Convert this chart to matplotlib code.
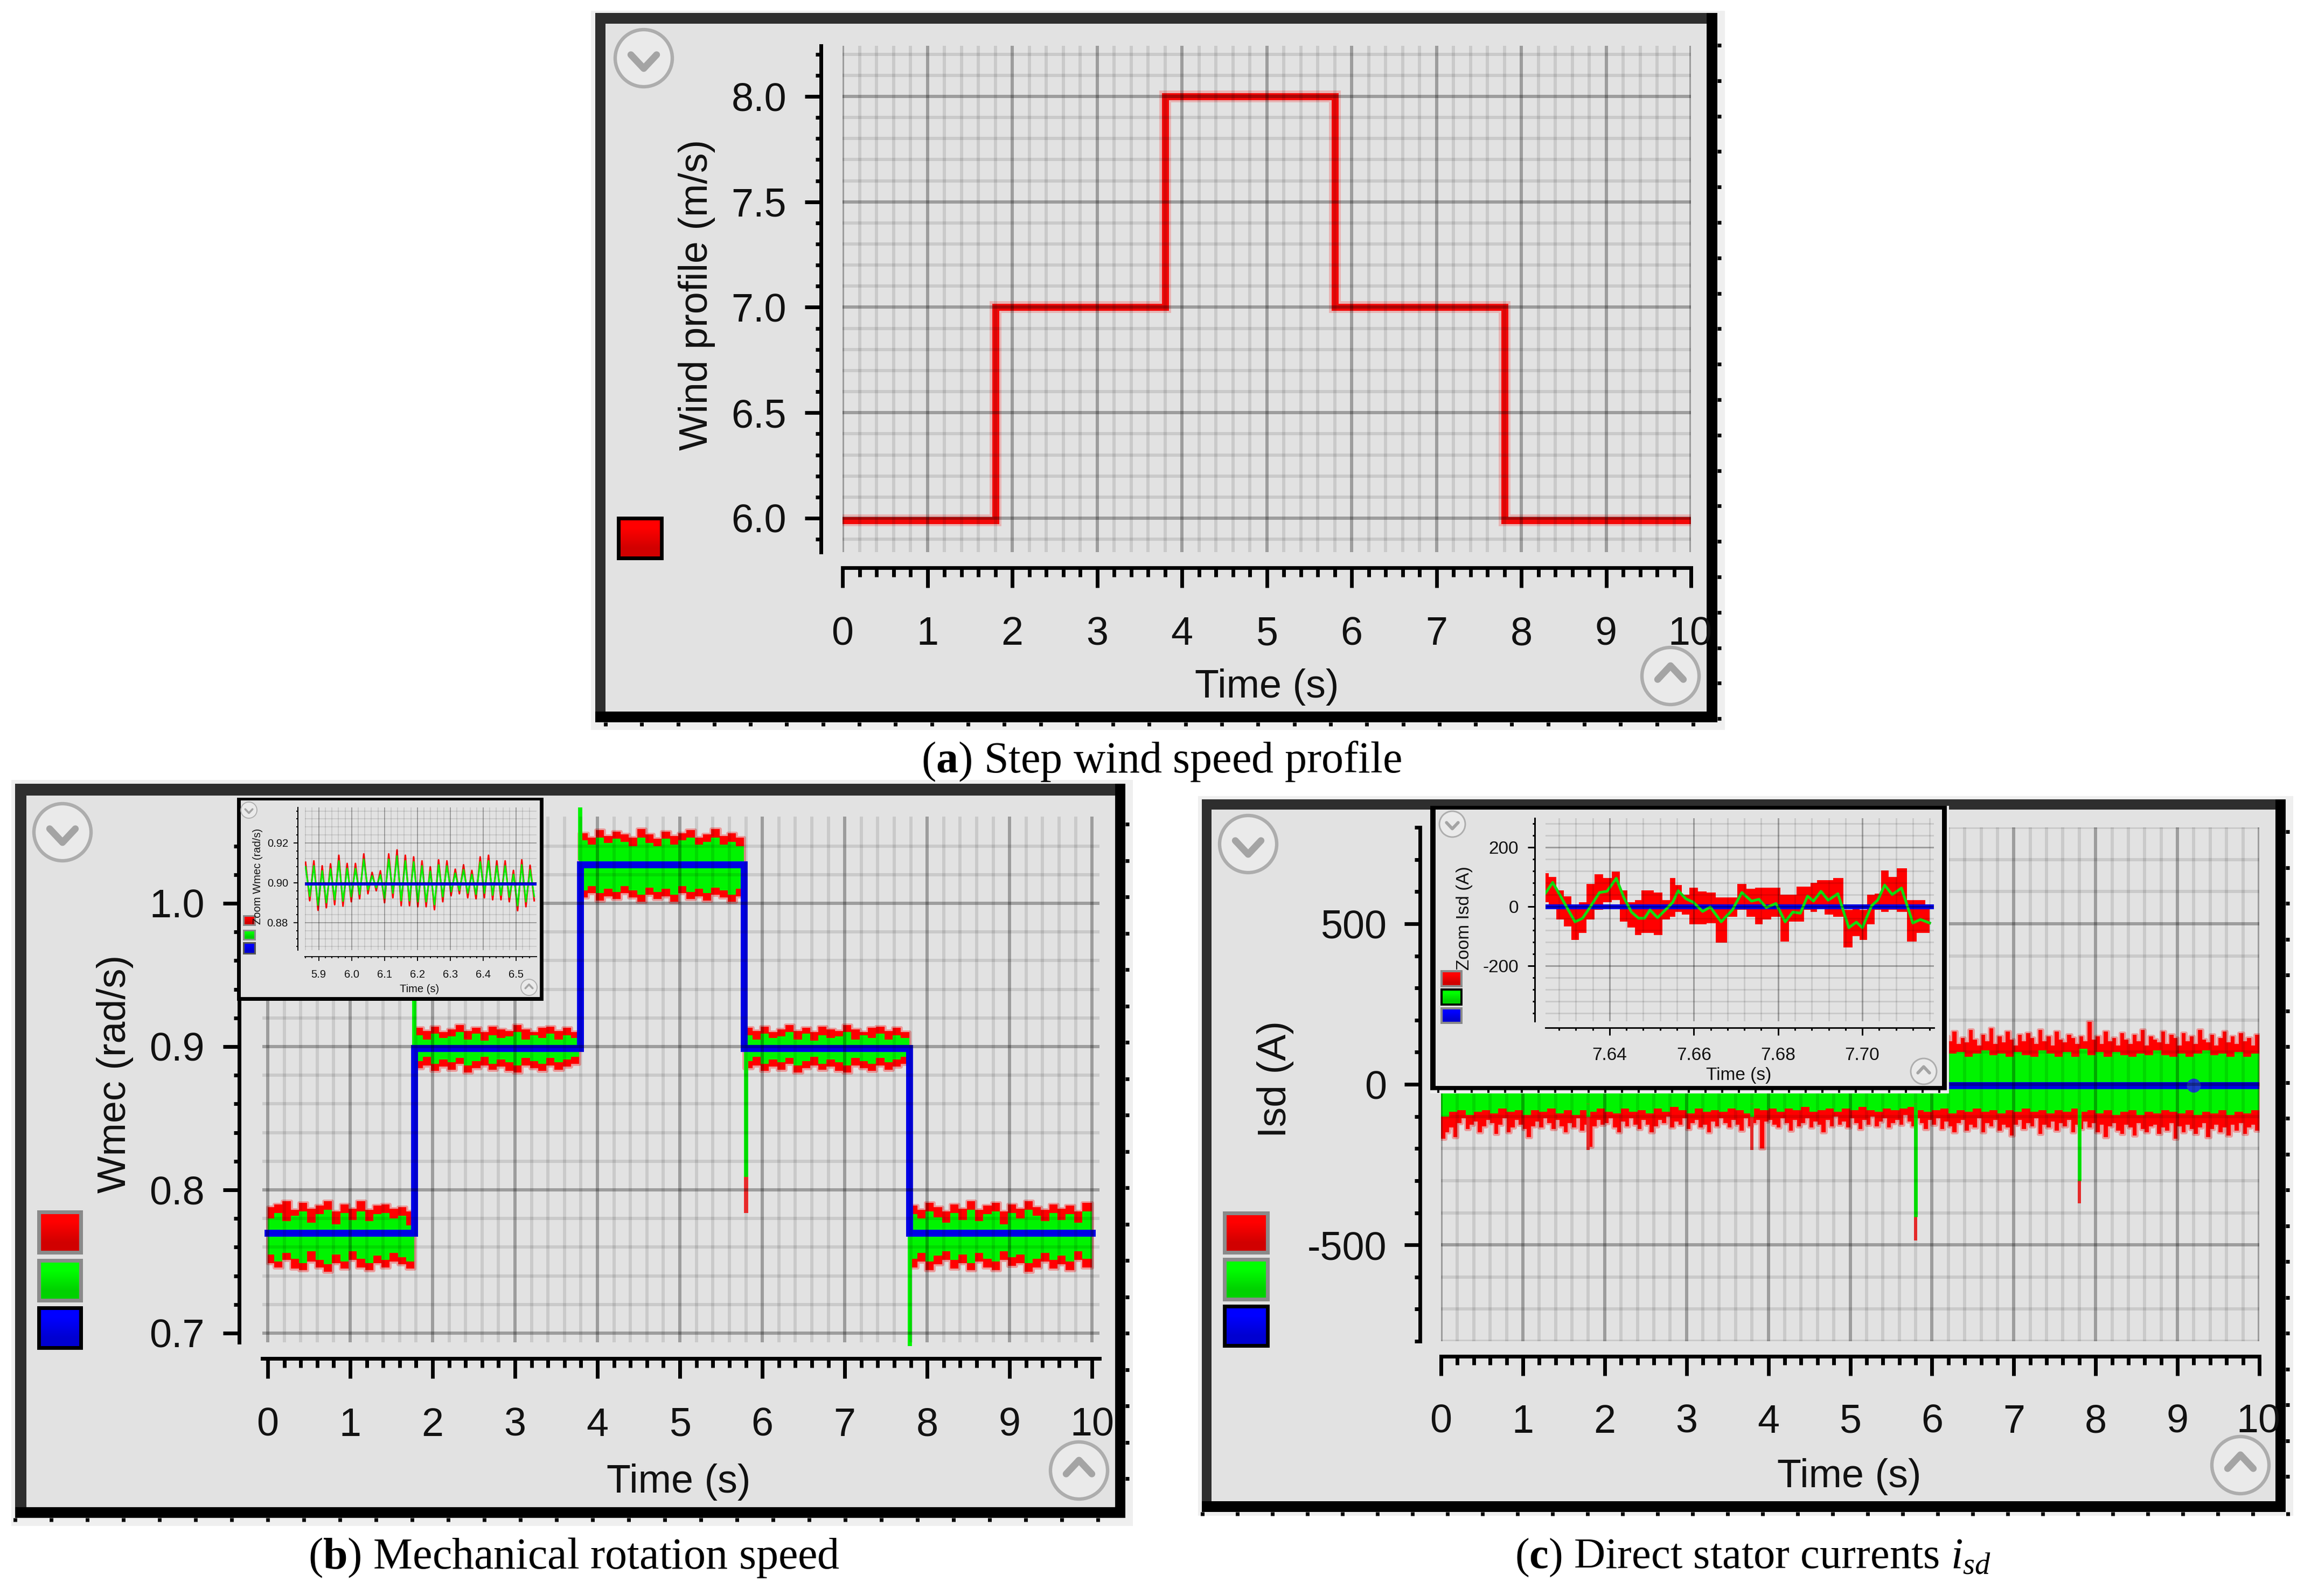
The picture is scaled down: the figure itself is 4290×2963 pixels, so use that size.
import numpy as np
from matplotlib import pyplot as plt
from matplotlib.patches import Circle, Rectangle
from matplotlib.transforms import ScaledTranslation

W = 4290
H = 2963
DPI = 100
PT = 72.0 / DPI  # one image pixel in points

plt.rcParams['font.family'] = ['Liberation Sans', 'DejaVu Sans']
plt.rcParams['mathtext.fontset'] = 'custom'
plt.rcParams['mathtext.bf'] = 'Liberation Serif:bold'
plt.rcParams['mathtext.it'] = 'Liberation Serif:italic'
plt.rcParams['mathtext.rm'] = 'Liberation Serif'

# (a) wind profile
wind_t = [0, 1.8, 1.8, 3.8, 3.8, 5.8, 5.8, 7.8, 7.8, 10]
wind_v = [5.99, 5.99, 7.0, 7.0, 8.0, 8.0, 7.0, 7.0, 5.99, 5.99]

# (b) mechanical speed, one value every 0.1 s
wmec_ref_t = [0, 1.78, 1.78, 3.79, 3.79, 5.78, 5.78, 7.78, 7.78, 10]
wmec_ref = [0.77, 0.77, 0.899, 0.899, 1.027, 1.027, 0.899, 0.899, 0.77, 0.77]

low_red_hi = [.788, .790, .792, .786, .791, .787, .789, .792, .785, .790, .787, .792, .786, .789, .790, .787, .788, .785]
low_grn_hi = [.780, .784, .778, .782, .785, .777, .783, .786, .776, .784, .779, .785, .778, .783, .784, .780, .782, .775]
low_grn_lo = [.755, .750, .756, .752, .749, .757, .751, .748, .755, .750, .757, .752, .749, .754, .751, .756, .753, .750]
low_red_lo = [.749, .746, .751, .745, .744, .750, .746, .743, .749, .745, .751, .746, .744, .749, .746, .750, .748, .745]

mid_red_hi = [.913, .911, .914, .910, .912, .915, .911, .913, .910, .914, .912, .911, .915, .912, .910, .913, .914, .911, .913, .910]
mid_grn_hi = [.908, .905, .909, .906, .907, .910, .905, .909, .904, .908, .906, .907, .910, .905, .908, .906, .909, .905, .908, .906]
mid_grn_lo = [.890, .893, .888, .891, .889, .892, .887, .890, .893, .888, .891, .889, .887, .892, .890, .888, .892, .889, .891, .893]
mid_red_lo = [.885, .887, .883, .886, .884, .888, .882, .885, .887, .884, .886, .883, .882, .887, .885, .883, .887, .884, .886, .888]

top_red_hi = [1.049, 1.046, 1.051, 1.047, 1.050, 1.048, 1.046, 1.052, 1.048, 1.045, 1.050, 1.047, 1.049, 1.051, 1.046, 1.048, 1.052, 1.047, 1.049, 1.046]
top_grn_hi = [1.044, 1.041, 1.046, 1.042, 1.045, 1.043, 1.040, 1.046, 1.042, 1.040, 1.045, 1.041, 1.044, 1.046, 1.041, 1.043, 1.046, 1.041, 1.043, 1.040]
top_grn_lo = [1.009, 1.012, 1.007, 1.010, 1.008, 1.012, 1.009, 1.006, 1.011, 1.008, 1.010, 1.006, 1.012, 1.008, 1.010, 1.007, 1.011, 1.009, 1.006, 1.010]
top_red_lo = [1.004, 1.007, 1.002, 1.005, 1.003, 1.007, 1.004, 1.001, 1.006, 1.003, 1.005, 1.001, 1.007, 1.003, 1.005, 1.002, 1.006, 1.004, 1.001, 1.005]

end_red_hi = [.789, .786, .791, .788, .785, .790, .787, .792, .786, .789, .791, .785, .790, .787, .792, .788, .786, .790, .787, .789, .785, .791, .788]
end_grn_hi = [.783, .780, .785, .781, .777, .784, .779, .786, .778, .783, .785, .776, .784, .780, .786, .782, .778, .784, .779, .783, .777, .785, .781]
end_grn_lo = [.752, .756, .750, .754, .757, .751, .755, .749, .756, .752, .750, .757, .753, .755, .749, .752, .756, .751, .754, .750, .757, .752, .755]
end_red_lo = [.746, .750, .744, .748, .751, .745, .749, .744, .750, .746, .744, .751, .747, .749, .743, .746, .750, .745, .748, .744, .751, .746, .749]

wmec_red_hi = low_red_hi + mid_red_hi + top_red_hi + mid_red_hi + end_red_hi
wmec_grn_hi = low_grn_hi + mid_grn_hi + top_grn_hi + mid_grn_hi + end_grn_hi
wmec_grn_lo = low_grn_lo + mid_grn_lo + top_grn_lo + mid_grn_lo + end_grn_lo
wmec_red_lo = low_red_lo + mid_red_lo + top_red_lo + mid_red_lo + end_red_lo

wmec_spike_t = [1.78, 3.79, 5.8, 7.79]
wmec_spike_from = [0.9, 1.03, 0.9, 0.77]
wmec_spike_to = [0.975, 1.067, 0.809, 0.691]
wmec_red_spike_to = [0.975, 1.067, 0.784, 0.691]

# (b) inset, zigzag high/low pairs
zoom_w_red = [.9103, .8910, .9110, .8862, .9085, .8875, .9095, .8890, .9138, .8883, .9097, .8905, .9097, .8920,
              .9145, .8945, .9052, .8960, .9060, .8900, .9145, .8925, .9165, .8885, .9138, .8885, .9130, .8880,
              .9110, .8880, .9080, .8865, .9115, .8905, .9110, .8935, .9068, .8945, .9090, .8925, .9062, .8920,
              .9130, .8925, .9138, .8915, .9110, .8915, .9110, .8905, .9062, .8860, .9115, .8880, .9088, .8910]
zoom_w_grn = [.9080, .8932, .9085, .8888, .9060, .8900, .9070, .8915, .9110, .8908, .9072, .8930, .9072, .8942,
              .9118, .8965, .9035, .8975, .9040, .8922, .9118, .8948, .9135, .8910, .9110, .8910, .9105, .8905,
              .9085, .8905, .9058, .8890, .9090, .8930, .9085, .8955, .9048, .8962, .9066, .8948, .9042, .8942,
              .9105, .8948, .9110, .8938, .9085, .8938, .9085, .8928, .9042, .8885, .9090, .8905, .9065, .8932]
zoom_w_ref_t = [5.86, 6.56]
zoom_w_ref = [0.8995, 0.8995]

# (c) stator current, red edges every 0.05 s below, green edges every 0.1 s
isd_red_lo = [-170, -150, -135, -165, -120, -105, -140, -125, -115, -150, -130, -110, -120, -155, -125, -105, -150, -135, -110, -125,
              -140, -165, -130, -115, -135, -105, -120, -140, -110, -130, -150, -120, -135, -105, -145, -125, -195, -130, -110, -125,
              -120, -105, -135, -150, -115, -130, -105, -125, -140, -110, -125, -150, -130, -110, -120, -100, -135, -115, -125, -105,
              -140, -120, -110, -135, -125, -150, -115, -130, -105, -120, -135, -110, -125, -145, -105, -130, -120, -110, -200, -115,
              -110, -125, -135, -105, -120, -145, -110, -130, -120, -105, -135, -115, -125, -150, -110, -130, -100, -125, -115, -135,
              -105, -120, -140, -110, -125, -100, -130, -115, -105, -135, -120, -110, -125, -95, -115, -130, -105, -120, -140, -110,
              -125, -105, -140, -115, -130, -150, -120, -110, -145, -125, -135, -105, -150, -120, -130, -110, -145, -125, -135, -160,
              -125, -110, -140, -120, -130, -105, -155, -125, -135, -115, -145, -120, -130, -110, -150, -125, -140, -115, -135, -120,
              -150, -125, -165, -130, -120, -145, -155, -125, -135, -160, -120, -140, -150, -130, -125, -155, -135, -145, -120, -170,
              -130, -150, -125, -140, -155, -135, -120, -165, -140, -125, -150, -135, -160, -125, -145, -120, -155, -135, -125, -145, -130]
isd_grn_lo = [-100, -85, -80, -95, -85, -80, -90, -75, -85, -80, -95, -80, -85, -75, -90, -80, -95, -80, -85, -75,
              -85, -90, -75, -85, -80, -90, -75, -85, -70, -80, -90, -75, -85, -80, -85, -75, -80, -90, -75, -80,
              -75, -85, -75, -80, -70, -85, -80, -75, -85, -75, -80, -70, -80, -85, -75, -80, -75, -70, -80, -85,
              -80, -75, -90, -80, -85, -75, -85, -80, -90, -80, -85, -75, -85, -80, -90, -80, -85, -75, -85, -80,
              -90, -80, -95, -85, -80, -95, -85, -90, -80, -85, -90, -80, -95, -85, -90, -80, -95, -85, -90, -80, -85]
isd_grn_hi = [85, 95, 75, 85, 95, 80, 90, 85, 70, 95, 85, 75, 90, 95, 80, 85, 95, 75, 80, 90,
              85, 80, 95, 85, 75, 90, 85, 95, 80, 85, 95, 85, 75, 90, 85, 95, 80, 85, 90, 75,
              85, 95, 80, 90, 85, 75, 95, 85, 90, 80, 85, 95, 75, 85, 90, 85, 80, 95, 85, 90,
              85, 90, 95, 100, 85, 95, 105, 90, 95, 85, 100, 90, 85, 105, 95, 85, 100, 85, 110, 90,
              100, 85, 100, 90, 85, 95, 90, 105, 90, 85, 95, 85, 95, 105, 90, 95, 85, 100, 85, 95, 90]
# upper red, every 0.1 s up to 6 s (behind the inset), then every 0.05 s
isd_red_hi_early = [120, 135, 110, 125, 140, 115, 130, 120, 105, 135, 125, 110, 130, 140, 115, 125, 135, 110, 120, 130,
                    125, 115, 135, 120, 110, 130, 125, 140, 115, 120, 135, 125, 110, 130, 120, 140, 115, 125, 130, 110,
                    120, 135, 115, 130, 125, 110, 140, 120, 130, 115, 125, 135, 110, 120, 130, 125, 115, 140, 120, 130]
isd_red_hi_late = [125, 140, 110, 150, 135, 165, 125, 145, 130, 170, 140, 120, 155, 135, 175, 125, 150, 130, 165, 140,
                   120, 155, 135, 160, 145, 125, 170, 135, 150, 120, 165, 140, 130, 155, 145, 125, 150, 135, 195, 140,
                   150, 125, 165, 135, 145, 120, 160, 140, 125, 155, 135, 170, 120, 150, 140, 130, 165, 125, 155, 145,
                   120, 160, 135, 150, 125, 170, 140, 130, 155, 120, 145, 165, 130, 150, 125, 160, 135, 145, 120, 155, 135]
isd_ref_t = [0, 10]
isd_ref = [-3, -3]
isd_mark_t = [9.2]
isd_mark = [-3]

isd_spike_t = [1.8, 3.8, 5.8, 7.8]
isd_grn_spike_to = [-100, -100, -413, -300]
isd_red_spike_to = [-204, -204, -486, -370]

# (c) inset, trace read every couple of ms
zoom_i_t = [7.6247, 7.6265, 7.6282, 7.6300, 7.6318, 7.6336, 7.6354, 7.6376, 7.6394, 7.6416, 7.6434, 7.6452, 7.6469, 7.6483, 7.6496, 7.6514, 7.6536,
            7.6550, 7.6563, 7.6581, 7.6599, 7.6621, 7.6639, 7.6665, 7.6692, 7.6714, 7.6737, 7.6755, 7.6772, 7.6795, 7.6817, 7.6835, 7.6853,
            7.6870, 7.6884, 7.6902, 7.6919, 7.6942, 7.6968, 7.6986, 7.7000, 7.7022, 7.7037, 7.7053, 7.7071, 7.7093, 7.7120, 7.7138, 7.7160]
zoom_i_grn = [43, 81, 39, -7, -52, -40, -2, 47, 51, 95, 30, -19, -40, -40, -12, -38, -7, 14, 53, 26, 14, -17, -2, -52, -11, 47, 18, 24, -4, 10,
              -52, -19, -23, 35, 18, 51, 21, 43, -72, -53, -72, 2, 22, 72, 40, 62, -56, -44, -56]
zoom_i_hi = [113, 100, 55, 35, 6, 14, 76, 109, 96, 117, 55, 14, 22, 55, 55, 47, 22, 96, 72, 39, 63, 51, 47, 30, 30, 76, 59, 63, 63, 63,
             39, 39, 67, 67, 80, 88, 88, 96, -11, -7, -11, 39, 43, 121, 100, 129, 22, 22, 6]
zoom_i_lo = [14, -2, -44, -68, -114, -89, -44, -11, 14, 22, -52, -72, -97, -89, -89, -97, -44, -35, -19, -27, -60, -60, -56, -122, -35, -11,
             -35, -60, -44, -35, -118, -52, -52, -11, -19, -2, -27, -35, -138, -101, -114, -60, -11, -19, -11, -19, -118, -89, -89]
zoom_i_ref_t = [7.6245, 7.717]
zoom_i_ref = [0, 0]

x_ticks = [0, 1, 2, 3, 4, 5, 6, 7, 8, 9, 10]
x_labels = ['0', '1', '2', '3', '4', '5', '6', '7', '8', '9', '10']

PANEL = '#e2e2e2'
STRIP = '#efefef'
DARK = '#2e2e2e'
RED = '#ff0000'
GREEN = '#00f400'
BLUE = '#0000e6'

fig = plt.figure(figsize=(W / DPI, H / DPI), dpi=DPI, facecolor='white')


def pixel_canvas(zorder):
    ax = fig.add_axes([0, 0, 1, 1], zorder=zorder)
    ax.set_xlim(0, W)
    ax.set_ylim(H, 0)
    ax.set_autoscale_on(False)
    ax.axis('off')
    ax.patch.set_alpha(0)
    return ax


back = pixel_canvas(0)
front = pixel_canvas(2)


def rect(canvas, x0, y0, x1, y1, color, edge=None, lw=0, z=1):
    canvas.add_patch(Rectangle((x0, y0), x1 - x0, y1 - y0, facecolor=color,
                               edgecolor=edge if edge else color, linewidth=lw * PT, zorder=z))


def frame(canvas, outer, border, inner, tick_x, tick_y, tick_len=7, tick_w=7):
    # outer light strip, dark top/left, black right/bottom, panel fill
    rect(back, *outer, STRIP)
    rect(back, *inner, PANEL, z=1.5)
    rect(canvas, border[0], border[1], inner[0], border[3], DARK)
    rect(canvas, border[0], border[1], border[2], inner[1], DARK)
    rect(canvas, inner[2], border[1], border[2], border[3], 'black')
    rect(canvas, border[0], inner[3], border[2], border[3], 'black')
    canvas.vlines(tick_x, border[3], border[3] + tick_len, color='black', lw=tick_w * PT)
    canvas.hlines(tick_y, border[2], border[2] + tick_len, color='black', lw=tick_w * PT)


def button(canvas, cx, cy, r, up=True):
    canvas.add_patch(Circle((cx, cy), r, facecolor='#eaeaea', edgecolor='#adadad',
                            linewidth=0.12 * r * PT, zorder=3))
    s = 1 if up else -1
    canvas.plot([cx - 0.45 * r, cx, cx + 0.45 * r], [cy + s * 0.12 * r, cy - s * 0.36 * r, cy + s * 0.12 * r],
                color='#a4a4a4', lw=0.24 * r * PT, solid_capstyle='round', zorder=4)


def swatch(canvas, x0, y0, x1, y1, color, edge, lw=7):
    top = np.array(color)
    img = np.array([[top], [top * 0.82]])
    canvas.imshow(img, extent=(x0, x1, y1, y0), aspect='auto', interpolation='bilinear', zorder=3)
    canvas.add_patch(Rectangle((x0, y0), x1 - x0, y1 - y0, fill=False, edgecolor=edge, linewidth=lw * PT, zorder=4))
    canvas.set_xlim(0, W)
    canvas.set_ylim(H, 0)


C_RED = (1.0, 0.0, 0.0)
C_GRN = (0.0, 1.0, 0.0)
C_BLU = (0.0, 0.0, 1.0)


def plot_axes(box, xlim, ylim, xticks, xlabels, xminor, yticks, ylabels, yminor, xlabel, ylabel, xlab_pos, ylab_pos,
              fs, out_x, out_y, spine, major_x, minor_x, major_y, minor_y, pad_x, pad_y, grid_w, zorder=1, last_shift=0):
    left, top, right, bottom = box
    ax = fig.add_axes([left / W, 1 - bottom / H, (right - left) / W, (bottom - top) / H], zorder=zorder)
    ax.patch.set_alpha(0)
    ax.set_xlim(*xlim)
    ax.set_ylim(*ylim)
    ax.set_xticks(xticks, xlabels)
    ax.set_xticks(xminor, minor=True)
    ax.set_yticks(yticks, ylabels)
    ax.set_yticks(yminor, minor=True)
    for side in ['top', 'right']:
        ax.spines[side].set_visible(False)
    ax.spines['left'].set_position(('outward', out_y * PT))
    ax.spines['bottom'].set_position(('outward', out_x * PT))
    ax.spines['left'].set_linewidth(spine * PT)
    ax.spines['bottom'].set_linewidth(spine * PT)
    # grid is see-through and lies over the traces, as in the screenshot
    ax.set_axisbelow(False)
    ax.grid(which='major', color='black', alpha=0.3, lw=grid_w * PT)
    ax.grid(which='minor', color='black', alpha=0.105, lw=grid_w * PT)
    ax.tick_params(axis='x', which='major', length=major_x * PT, width=spine * PT, pad=pad_x * PT, labelsize=fs, labelcolor='#111111')
    ax.tick_params(axis='x', which='minor', length=minor_x * PT, width=spine * PT)
    ax.tick_params(axis='y', which='major', length=major_y * PT, width=spine * PT, pad=pad_y * PT, labelsize=fs, labelcolor='#111111')
    ax.tick_params(axis='y', which='minor', length=minor_y * PT, width=spine * PT)
    ax.set_xlabel(xlabel, fontsize=fs, color='#111111', va='center')
    ax.set_ylabel(ylabel, fontsize=fs, color='#111111', va='center')
    ax.xaxis.set_label_coords(xlab_pos[0], xlab_pos[1], transform=back.transData)
    ax.yaxis.set_label_coords(ylab_pos[0], ylab_pos[1], transform=back.transData)
    if last_shift:
        lab = ax.get_xticklabels()[-1]
        lab.set_transform(lab.get_transform() + ScaledTranslation(last_shift / DPI, 0, fig.dpi_scale_trans))
    return ax


def band(ax, t, lo, hi, color, halo=7):
    if halo:
        ax.fill_between(t, lo, hi, step='post', color=color, alpha=0.3, lw=halo * PT, zorder=1.3)
    ax.fill_between(t, lo, hi, step='post', color=color, lw=0, zorder=1.4)


# ---------- (a)
frame(back, (1097, 20, 3202, 1355), (1105, 24, 3188, 1341), (1124, 44, 3168, 1321),
      np.arange(1124, 3200, 67.3), np.arange(84, 1340, 65.8))
ax_a = plot_axes((1564, 85, 3139, 1025), (0, 10), (5.839, 8.24),
                 x_ticks, x_labels, np.arange(0, 10.01, 0.2),
                 [6.0, 6.5, 7.0, 7.5, 8.0], ['6.0', '6.5', '7.0', '7.5', '8.0'], np.arange(5.9, 8.25, 0.1),
                 'Time (s)', 'Wind profile (m/s)', (2352, 1276), (1294, 547),
                 53, 29, 40, 7, 37, 17, 30, 10, 52, 34, 6, last_shift=-2)
ax_a.plot(wind_t, wind_v, color=RED, alpha=0.2, lw=22 * PT, solid_joinstyle='miter', zorder=1.3)
ax_a.plot(wind_t, wind_v, color='#f40808', lw=13 * PT, solid_joinstyle='miter', zorder=1.4)
swatch(back, 1148, 962, 1228, 1036, C_RED, 'black')
button(back, 1195, 108, 53, up=False)
button(back, 3101, 1255, 53)
back.text(2156, 1414, r'($\mathbf{a}$) Step wind speed profile', family='Liberation Serif', fontsize=59, ha='center', va='center')

# ---------- (b)
frame(back, (21, 1448, 2103, 2833), (28, 1455, 2089, 2818), (49, 1477, 2070, 2798),
      np.arange(28, 2095, 67), np.arange(1530, 2800, 67.5))
t_b = np.arange(101) * 0.1 - 0.02
t_b[0] = 0
t_b[-1] = 10
ax_b = plot_axes((487, 1516, 2041, 2492), (-0.065, 10.09), (0.6936, 1.0605),
                 x_ticks, x_labels, np.arange(0, 10.01, 0.2),
                 [0.7, 0.8, 0.9, 1.0], ['0.7', '0.8', '0.9', '1.0'], np.arange(0.7, 1.05, 0.02),
                 'Time (s)', 'Wmec (rad/s)', (1260, 2751), (214, 1994),
                 53, 30, 43, 7, 37, 17, 30, 10, 53, 34, 6)
band(ax_b, t_b, wmec_red_lo, wmec_red_hi, RED)
band(ax_b, t_b, wmec_grn_lo, wmec_grn_hi, GREEN, halo=0)
ax_b.vlines(wmec_spike_t, wmec_spike_from, wmec_red_spike_to, color='#ff3030', lw=8 * PT, zorder=1.5, clip_on=False)
ax_b.vlines(wmec_spike_t, wmec_spike_from, wmec_spike_to, color=GREEN, lw=8 * PT, zorder=1.6, clip_on=False)
ax_b.plot(wmec_ref_t, wmec_ref, color=BLUE, lw=13 * PT, solid_joinstyle='miter', zorder=1.8)
swatch(back, 72, 2250, 150, 2325, C_RED, '#8a8a8a')
swatch(back, 72, 2340, 150, 2414, C_GRN, '#8a8a8a')
swatch(back, 72, 2428, 150, 2502, C_BLU, 'black')
button(back, 116, 1545, 53, up=False)
button(back, 2003, 2730, 53)
back.text(1065, 2892, r'($\mathbf{b}$) Mechanical rotation speed', family='Liberation Serif', fontsize=59, ha='center', va='center')

# (b) inset
rect(front, 440, 1481, 1009, 1858, 'black')
rect(front, 447, 1486, 1002, 1851, PANEL)
swatch(front, 452, 1700, 473, 1717, C_RED, '#8a8a8a', lw=3)
swatch(front, 452, 1727, 473, 1744, C_GRN, '#8a8a8a', lw=3)
swatch(front, 452, 1750, 473, 1770, C_BLU, '#555555', lw=3)
button(front, 462, 1504, 15, up=False)
button(front, 982, 1833, 15)
ax_bz = plot_axes((566, 1499, 996, 1764), (5.858, 6.562), (0.8662, 0.9378),
                  [5.9, 6.0, 6.1, 6.2, 6.3, 6.4, 6.5], ['5.9', '6.0', '6.1', '6.2', '6.3', '6.4', '6.5'], np.arange(5.86, 6.56, 0.02),
                  [0.88, 0.90, 0.92], ['0.88', '0.90', '0.92'], np.arange(0.868, 0.938, 0.004),
                  'Time (s)', 'Zoom Wmec (rad/s)', (779, 1836), (478, 1627),
                  14.5, 12, 13, 2, 8, 3, 8, 3, 16, 10, 2, zorder=3)
t_bz = np.linspace(5.86, 6.555, len(zoom_w_red))
ax_bz.plot(t_bz, zoom_w_red, color=RED, lw=3 * PT, zorder=1.3)
ax_bz.plot(t_bz, zoom_w_grn, color=GREEN, lw=3 * PT, zorder=1.4)
ax_bz.plot(zoom_w_ref_t, zoom_w_ref, color=BLUE, lw=6 * PT, zorder=1.8)

# ---------- (c)
frame(back, (2224, 1478, 4257, 2814), (2231, 1484, 4243, 2807), (2249, 1503, 4224, 2787),
      np.arange(2232, 4250, 65), np.arange(1544, 2790, 66.5))
t_c = np.arange(101) * 0.1
t_c_lo = np.arange(201) * 0.05
t_c_hi = np.concatenate([np.arange(60) * 0.1, 6 + np.arange(81) * 0.05])
ax_c = plot_axes((2675, 1536, 4194, 2490), (0, 10), (-800, 800),
                 x_ticks, x_labels, np.arange(0, 10.01, 0.2),
                 [-500, 0, 500], ['-500', '0', '500'], np.arange(-800, 801, 100),
                 'Time (s)', 'Isd (A)', (3433, 2741), (2367, 2003),
                 53, 28, 39, 7, 36, 16, 29, 10, 52, 33, 6, last_shift=-2)
band(ax_c, t_c_lo, isd_red_lo, 0, RED)
band(ax_c, t_c_hi, 0, isd_red_hi_early + isd_red_hi_late, RED)
band(ax_c, t_c, isd_grn_lo, isd_grn_hi, GREEN, halo=0)
ax_c.vlines(isd_spike_t, -60, isd_red_spike_to, color='#ff3030', lw=6 * PT, zorder=1.5)
ax_c.vlines(isd_spike_t, -60, isd_grn_spike_to, color=GREEN, lw=7 * PT, zorder=1.6)
ax_c.plot(isd_ref_t, isd_ref, color=BLUE, lw=13 * PT, zorder=1.8)
ax_c.plot(isd_mark_t, isd_mark, 'o', color='#1c3ccc', ms=26 * PT, mew=0, zorder=1.9)
swatch(back, 2273, 2252, 2353, 2325, C_RED, '#8a8a8a')
swatch(back, 2273, 2338, 2353, 2412, C_GRN, '#8a8a8a')
swatch(back, 2273, 2425, 2353, 2498, C_BLU, 'black')
button(back, 2317, 1567, 53, up=False)
button(back, 4159, 2720, 53)
back.text(3254, 2892, r'($\mathbf{c}$) Direct stator currents $\mathit{i}_{\mathit{sd}}$', family='Liberation Serif', fontsize=58, ha='center', va='center')

# (c) inset
rect(front, 2655, 1496, 3618, 2030, STRIP)
rect(front, 2655, 1496, 3614, 2024, 'black')
rect(front, 2665, 1503, 3605, 2016, PANEL)
front.vlines(np.arange(2670, 3615, 31), 2024, 2029, color='black', lw=4 * PT)
swatch(front, 2676, 1803, 2713, 1831, C_RED, '#8a8a8a', lw=4)
swatch(front, 2676, 1837, 2713, 1865, C_GRN, 'black', lw=4)
swatch(front, 2676, 1872, 2713, 1899, C_BLU, '#8a8a8a', lw=4)
button(front, 2696, 1530, 24, up=False)
button(front, 3571, 1989, 24)
ax_cz = plot_axes((2869, 1519, 3590, 1896), (7.6248, 7.717), (-388, 298),
                  [7.64, 7.66, 7.68, 7.70], ['7.64', '7.66', '7.68', '7.70'], np.arange(7.628, 7.717, 0.004),
                  [-200, 0, 200], ['-200', '0', '200'], np.arange(-360, 290, 40),
                  'Time (s)', 'Zoom Isd (A)', (3228, 1996), (2718, 1705),
                  24, 12, 20, 3, 14, 5, 13, 4, 22, 17, 3, zorder=3)
ax_cz.fill_between(zoom_i_t, zoom_i_lo, zoom_i_hi, step='mid', color=RED, lw=0, zorder=1.3)
ax_cz.plot(zoom_i_ref_t, zoom_i_ref, color=BLUE, lw=9 * PT, zorder=1.5)
ax_cz.plot(zoom_i_t, zoom_i_grn, color='#10e010', lw=5 * PT, zorder=1.8)

fig.savefig('out.png', dpi=DPI)
